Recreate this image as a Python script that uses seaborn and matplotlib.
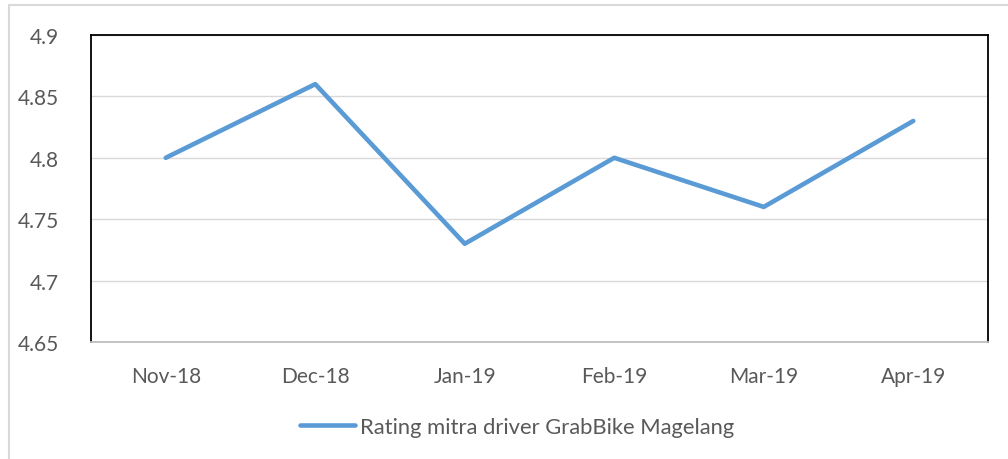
import matplotlib
matplotlib.use("Agg")
import matplotlib.pyplot as plt
from matplotlib.patches import Rectangle
import seaborn as sns
import pandas as pd

# Données
bulan = ['Nov-18', 'Dec-18', 'Jan-19', 'Feb-19', 'Mar-19', 'Apr-19']
rating = [4.80, 4.86, 4.73, 4.80, 4.76, 4.83]
nama_seri = 'Rating mitra driver GrabBike Magelang'
yticks = [4.65, 4.7, 4.75, 4.8, 4.85, 4.9]
ylabels = ['4.65', '4.7', '4.75', '4.8', '4.85', '4.9']

df = pd.DataFrame({'Bulan': bulan, 'Rating': rating})

sns.set_style("white")
plt.rcParams['font.family'] = ['Lato', 'DejaVu Sans']

fig = plt.figure(figsize=(10.08, 4.6), dpi=100)
ax = fig.add_axes([91 / 1008, 1 - 343 / 460, (988 - 91) / 1008, (343 - 36) / 460])

sns.lineplot(data=df, x='Bulan', y='Rating', ax=ax, color='#5B9BD5',
             linewidth=3.3, label=nama_seri, sort=False)
for ln in ax.get_lines():
    ln.set_solid_capstyle('round')
    ln.set_solid_joinstyle('round')

ax.set_xlim(-0.5, len(bulan) - 0.5)
ax.set_ylim(4.65, 4.9)
ax.set_yticks(yticks)
ax.set_yticklabels(ylabels)
ax.yaxis.grid(True, color='#d9d9d9', linewidth=1)
ax.set_xlabel('')
ax.set_ylabel('')
ax.tick_params(axis='both', length=0, labelsize=15, labelcolor='#595959')
ax.tick_params(axis='x', pad=17)
ax.tick_params(axis='y', pad=23)

for side in ['left', 'top', 'right']:
    ax.spines[side].set_color('black')
    ax.spines[side].set_linewidth(1.3)
ax.spines['bottom'].set_color('#bfbfbf')
ax.spines['bottom'].set_linewidth(1.3)

leg = ax.legend(loc='center', bbox_to_anchor=(517 / 1008, 1 - 428 / 460),
                bbox_transform=fig.transFigure, frameon=False, fontsize=15.8,
                handlelength=2.5, handletextpad=0.25)
for t in leg.get_texts():
    t.set_color('#595959')

# Bordure extérieure
fig.patches.append(Rectangle((9 / 1008, -0.1), 1.2, (460 - 6) / 460 + 0.1,
                             transform=fig.transFigure, fill=False,
                             edgecolor='#d9d9d9', linewidth=1.5))

plt.savefig('out.png', dpi=100)
